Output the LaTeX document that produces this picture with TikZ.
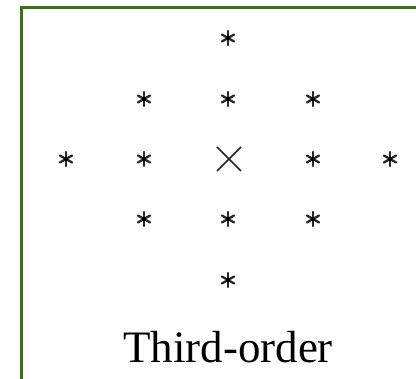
\documentclass[tikz,border=0pt]{standalone}
\usepackage{fontspec}
\setmainfont{Liberation Serif}
\definecolor{framegreen}{RGB}{62,112,18}
\tikzset{
  star/.style={inner sep=0pt, minimum size=16pt,
    path picture={
      \foreach \a in {90,30,-30}{
        \draw[line width=2.3pt, black!85, line cap=round]
          ([shift={(\a:-7pt)}]path picture bounding box.center) --
          ([shift={(\a:7pt)}]path picture bounding box.center);
      }
      \fill[black] (path picture bounding box.center) circle (2pt);
    }},
  frameline/.style={draw=framegreen, line width=3pt},
  crossline/.style={line width=1.5pt, black!85}
}
\begin{document}
\begin{tikzpicture}[x=1pt,y=-1pt]
\useasboundingbox (0,0) rectangle (416,379);
\clip (0,0) rectangle (416,379);
\fill[white] (0,0) rectangle (416,379);
\draw[frameline] (21,390) -- (21,8) -- (430,8);
% stars
\node[star] (s1) at (228,38) {};
\node[star] (s2) at (144,99) {};
\node[star] (s3) at (228,99) {};
\node[star] (s4) at (313,99) {};
\node[star] (s5) at (66,159) {};
\node[star] (s6) at (144,159) {};
\node[star] (s7) at (313,159) {};
\node[star] (s8) at (390,159) {};
\node[star] (s9) at (144,219) {};
\node[star] (s10) at (228,219) {};
\node[star] (s11) at (313,219) {};
\node[star] (s12) at (228,280) {};
% center cross
\coordinate (c) at (229,159);
\draw[crossline] ([shift={(-12,-12)}]c) -- ([shift={(12,12)}]c);
\draw[crossline] ([shift={(-12,12)}]c) -- ([shift={(12,-12)}]c);
% label
\node[inner sep=0pt, anchor=base, font=\fontsize{45}{45}\selectfont] (lbl) at (228,363) {Third-order};
\end{tikzpicture}
\end{document}
